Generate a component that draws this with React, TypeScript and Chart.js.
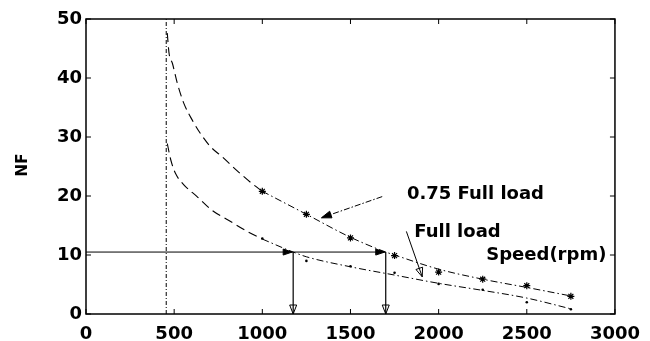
import { useEffect, useRef } from 'react';
import { Chart, registerables } from 'chart.js';

Chart.register(...registerables);

// ---- data ----
const upperDashSpeed = [461, 471, 490, 518, 555, 602, 649, 705, 770, 864, 938, 1000];
const upperDashNF = [47.6, 44.2, 42.5, 39.1, 35.7, 32.9, 30.6, 28.4, 26.7, 24.1, 22.2, 20.8];
const upperCurveSpeed = [1000, 1250, 1500, 1700, 1750, 2000, 2250, 2500, 2760];
const upperCurveNF = [20.8, 16.9, 13.0, 10.5, 10.0, 7.6, 5.9, 4.5, 3.0];
const upperMarkSpeed = [1000, 1250, 1500, 1750, 2000, 2250, 2500, 2750];
const upperMarkNF = [20.8, 16.9, 12.9, 9.9, 7.1, 5.9, 4.8, 3.0];

const lowerDashSpeed = [461, 481, 508, 555, 630, 714, 808, 920, 1000];
const lowerDashNF = [28.9, 26.1, 23.8, 21.9, 19.9, 17.6, 15.9, 13.9, 12.7];
const lowerCurveSpeed = [1000, 1175, 1250, 1500, 1750, 2000, 2250, 2500, 2760];
const lowerCurveNF = [12.7, 10.5, 9.7, 8.0, 6.6, 5.2, 4.0, 2.7, 0.8];
const lowerMarkSpeed = [1000, 1250, 1500, 1750, 2000, 2250, 2500, 2750];
const lowerMarkNF = [12.8, 9.0, 8.1, 7.0, 5.1, 4.1, 2.0, 0.8];

const idleSpeed = 455;
const targetNF = 10.5;
const arrowSpeeds = [1175, 1700];

const xTickValues = [0, 500, 1000, 1500, 2000, 2500, 3000];
const yTickValues = [0, 10, 20, 30, 40, 50];

const labelUpper = '0.75 Full load';
const labelLower = 'Full load';
const labelSpeed = 'Speed(rpm)';
const labelNF = 'NF';

const zip = (xs: number[], ys: number[]) => xs.map((x, i) => ({ x, y: ys[i] }));

const FONT = '"DejaVu Sans", sans-serif';

function arrowHead(ctx: CanvasRenderingContext2D, fx: number, fy: number, tx: number, ty: number, len: number, hw: number, fill: boolean) {
  const ang = Math.atan2(ty - fy, tx - fx);
  const bx = tx - len * Math.cos(ang);
  const by = ty - len * Math.sin(ang);
  const nx = -Math.sin(ang) * hw;
  const ny = Math.cos(ang) * hw;
  ctx.beginPath();
  ctx.setLineDash([]);
  ctx.moveTo(tx, ty);
  ctx.lineTo(bx + nx, by + ny);
  ctx.lineTo(bx - nx, by - ny);
  ctx.closePath();
  if (fill) ctx.fill();
  ctx.stroke();
}

const overlay = {
  id: 'overlay',
  afterDatasetsDraw(chart: any) {
    const { ctx, chartArea: a, scales } = chart;
    const x = scales.x;
    const y = scales.y;
    ctx.save();
    ctx.strokeStyle = '#000';
    ctx.fillStyle = '#000';
    ctx.setLineDash([]);
    ctx.lineWidth = 1.5;
    ctx.strokeRect(a.left, a.top, a.right - a.left, a.bottom - a.top);
    ctx.lineWidth = 1;
    ctx.beginPath();
    for (const v of xTickValues) {
      const px = x.getPixelForValue(v);
      ctx.moveTo(px, a.bottom);
      ctx.lineTo(px, a.bottom - 5);
      ctx.moveTo(px, a.top);
      ctx.lineTo(px, a.top + 5);
    }
    for (const v of yTickValues) {
      const py = y.getPixelForValue(v);
      ctx.moveTo(a.left, py);
      ctx.lineTo(a.left + 5, py);
      ctx.moveTo(a.right, py);
      ctx.lineTo(a.right - 5, py);
    }
    ctx.stroke();

    // arrowheads on vertical arrows
    ctx.lineWidth = 1;
    for (const s of arrowSpeeds) {
      const px = x.getPixelForValue(s);
      const py0 = y.getPixelForValue(0);
      const pyT = y.getPixelForValue(targetNF);
      arrowHead(ctx, px, pyT, px, py0, 9, 3.5, false);
      arrowHead(ctx, px - 20, pyT, px - 1, pyT, 9, 3, true);
    }

    // annotation arrow for 0.75 full load
    const a1x = x.getPixelForValue(1680), a1y = y.getPixelForValue(19.9);
    const a1tx = x.getPixelForValue(1335), a1ty = y.getPixelForValue(16.3);
    ctx.beginPath();
    ctx.setLineDash([6, 2, 1.5, 2]);
    ctx.moveTo(a1x, a1y);
    ctx.lineTo(a1tx, a1ty);
    ctx.stroke();
    arrowHead(ctx, a1x, a1y, a1tx, a1ty, 10, 3.5, true);

    // annotation arrow for full load
    const a2x = x.getPixelForValue(1817), a2y = y.getPixelForValue(14.0);
    const a2tx = x.getPixelForValue(1907), a2ty = y.getPixelForValue(6.3);
    ctx.beginPath();
    ctx.setLineDash([]);
    ctx.moveTo(a2x, a2y);
    ctx.lineTo(a2tx, a2ty);
    ctx.stroke();
    arrowHead(ctx, a2x, a2y, a2tx, a2ty, 9, 3.5, false);

    // texts
    ctx.font = `bold 18px ${FONT}`;
    ctx.textBaseline = 'middle';
    ctx.textAlign = 'left';
    ctx.fillText(labelUpper, x.getPixelForValue(1820), y.getPixelForValue(20.2));
    ctx.fillText(labelLower, x.getPixelForValue(1862), y.getPixelForValue(13.9));
    ctx.fillText(labelSpeed, x.getPixelForValue(2270), y.getPixelForValue(10.0));

    // y title
    ctx.save();
    ctx.font = `bold 15px ${FONT}`;
    ctx.textAlign = 'center';
    ctx.translate(23, 165);
    ctx.rotate(-Math.PI / 2);
    ctx.fillText(labelNF, 0, 0);
    ctx.restore();

    ctx.restore();
  },
};

export default function App() {
  const ref = useRef<HTMLCanvasElement | null>(null);
  useEffect(() => {
    if (!ref.current) return;
    const black = '#000';
    const chart = new Chart(ref.current, {
      type: 'line',
      data: {
        datasets: [
          { data: zip(upperDashSpeed, upperDashNF), borderColor: black, borderWidth: 1.1, borderDash: [9, 5], pointRadius: 0, cubicInterpolationMode: 'monotone', fill: false },
          { data: zip(upperCurveSpeed, upperCurveNF), borderColor: black, borderWidth: 1, borderDash: [7, 3, 1.5, 3], pointRadius: 0, cubicInterpolationMode: 'monotone', fill: false },
          { data: zip(upperMarkSpeed, upperMarkNF), showLine: false, pointStyle: 'star', pointRadius: 3.5, borderColor: black, borderWidth: 1.2, backgroundColor: black },
          { data: zip(lowerDashSpeed, lowerDashNF), borderColor: black, borderWidth: 1.1, borderDash: [9, 5], pointRadius: 0, cubicInterpolationMode: 'monotone', fill: false },
          { data: zip(lowerCurveSpeed, lowerCurveNF), borderColor: black, borderWidth: 1, borderDash: [7, 3, 1.5, 3], pointRadius: 0, cubicInterpolationMode: 'monotone', fill: false },
          { data: zip(lowerMarkSpeed, lowerMarkNF), showLine: false, pointStyle: 'circle', pointRadius: 1.3, borderColor: black, borderWidth: 0, backgroundColor: black },
          { data: [{ x: idleSpeed, y: 0 }, { x: idleSpeed, y: 50 }], borderColor: black, borderWidth: 1, borderDash: [4, 2, 1, 2], pointRadius: 0 },
          { data: [{ x: 0, y: targetNF }, { x: arrowSpeeds[1], y: targetNF }], borderColor: black, borderWidth: 1, pointRadius: 0 },
          { data: [{ x: arrowSpeeds[0], y: targetNF }, { x: arrowSpeeds[0], y: 0 }], borderColor: black, borderWidth: 1.2, pointRadius: 0 },
          { data: [{ x: arrowSpeeds[1], y: targetNF }, { x: arrowSpeeds[1], y: 0 }], borderColor: black, borderWidth: 1.2, pointRadius: 0 },
        ] as any,
      },
      options: {
        animation: false,
        responsive: false,
        events: [],
        layout: { padding: { top: 19, right: 29, left: 0, bottom: 0 } },
        plugins: { legend: { display: false }, tooltip: { enabled: false }, title: { display: false } },
        scales: {
          x: {
            type: 'linear',
            min: 0,
            max: 3000,
            afterFit: (s: any) => { s.height = 27; },
            afterBuildTicks: (s: any) => { s.ticks = xTickValues.map((v) => ({ value: v })); },
            grid: { display: false, drawTicks: false },
            border: { display: false },
            ticks: { color: black, padding: 10, maxRotation: 0, autoSkip: false, callback: (v: any) => String(v), font: { family: FONT, size: 18, weight: 'bold' } },
          },
          y: {
            type: 'linear',
            min: 0,
            max: 50,
            afterFit: (s: any) => { s.width = 86; },
            afterBuildTicks: (s: any) => { s.ticks = yTickValues.map((v) => ({ value: v })); },
            grid: { display: false, drawTicks: false },
            border: { display: false },
            ticks: { color: black, padding: 4, autoSkip: false, callback: (v: any) => String(v), font: { family: FONT, size: 18, weight: 'bold' } },
          },
        },
      } as any,
      plugins: [overlay],
    });
    return () => chart.destroy();
  }, []);
  return (
    <div style={{ position: 'absolute', left: 0, top: 0, width: 650, height: 341, background: '#fff' }}>
      <canvas ref={ref} width={650} height={341} style={{ display: 'block' }} />
    </div>
  );
}
